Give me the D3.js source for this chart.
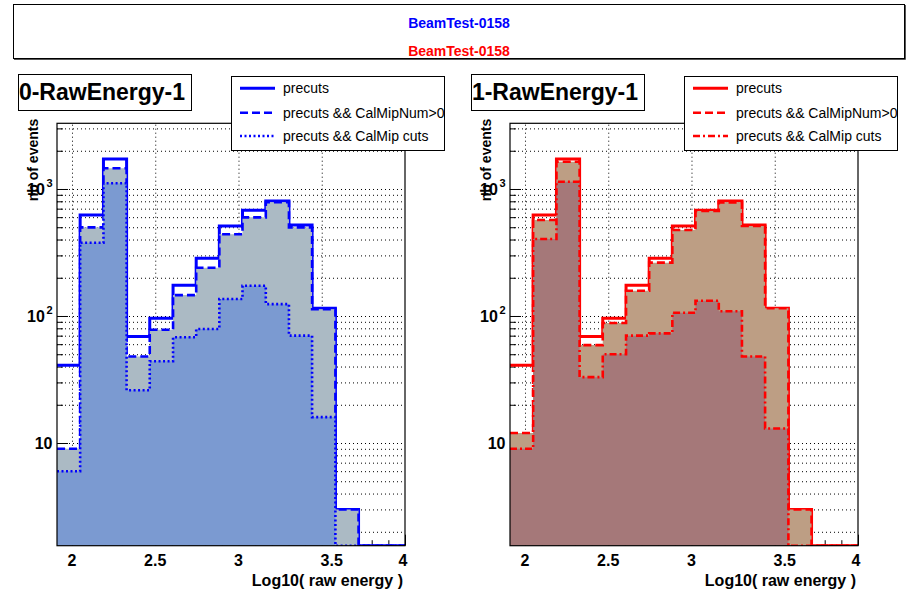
<!DOCTYPE html>
<html>
<head>
<meta charset="utf-8">
<script src="https://cdn.jsdelivr.net/npm/d3@7/dist/d3.min.js"></script>
<style>
  body { margin: 0; background: #fff; }
  svg { display: block; font-family: "Liberation Sans", Arial, Helvetica, sans-serif; }
</style>
</head>
<body>
<svg id="chart" width="913" height="592"></svg>
<script>
// Histogram binning: 15 bins in log10(raw energy)
const binEdges = [1.910, 2.049, 2.189, 2.328, 2.467, 2.607, 2.746, 2.885,
                  3.024, 3.164, 3.303, 3.442, 3.582, 3.721, 3.861, 4.000];

// Layer 0 counts per bin
const precuts0  = [41, 624, 1722, 69, 96, 175, 285, 511, 680, 804, 521, 115, 3, 0, 0];
const mipNum0   = [9, 499, 1455, 48, 78, 146, 240, 440, 598, 788, 499, 113, 3, 0, 0];
const mipCuts0  = [6, 377, 1109, 26, 44, 68, 79, 136, 173, 124, 70, 16, 0, 0, 0];

// Layer 1 counts per bin
const precuts1  = [41, 624, 1722, 69, 96, 175, 285, 511, 680, 804, 521, 115, 3, 0, 0];
const mipNum1   = [12, 570, 1640, 59, 88, 158, 263, 475, 671, 785, 511, 115, 3, 0, 0];
const mipCuts1  = [9, 404, 1141, 33, 50, 70, 73, 106, 132, 109, 48, 13, 0, 0, 0];

const legendLabels = ["precuts", "precuts && CalMipNum>0", "precuts && CalMip cuts"];
const xTickValues = [2, 2.5, 3, 3.5, 4];
const yTickValues = [10, 100, 1000];
const runLabel = "BeamTest-0158";

const yMin = 1.554, yMax = 3290;

const svg = d3.select("#chart");

// Run header pave
svg.append("rect").attr("x", 13.5).attr("y", 4.5).attr("width", 891).attr("height", 54)
  .attr("fill", "#fff").attr("stroke", "#000").attr("stroke-width", 1);
svg.append("path").attr("d", "M14,59.5H905.5V5").attr("fill", "none")
  .attr("stroke", "#555").attr("stroke-width", 1);
svg.append("text").attr("x", 459).attr("y", 28).attr("text-anchor", "middle")
  .attr("font-size", 14).attr("font-weight", "bold").attr("fill", "#0000ff").text(runLabel);
svg.append("text").attr("x", 459).attr("y", 55.5).attr("text-anchor", "middle")
  .attr("font-size", 14).attr("font-weight", "bold").attr("fill", "#ff0000").text(runLabel);

// Minor tick positions
const xMinor = d3.range(20, 41).map(k => k / 10).filter(v => !xTickValues.includes(v));
const yMinorAll = [];
[1, 10, 100, 1000].forEach(dec => { for (let m = 1; m <= 9; m++) yMinorAll.push(dec * m); });
const yGrid = yMinorAll.filter(v => v >= yMin && v <= yMax);
const yMinor = yGrid.filter(v => !yTickValues.includes(v));

const fx0 = 57, fx1 = 405, fy0 = 123.3, fy1 = 545.7;

function drawPanel(ox, idx, title, color, series) {
  const g = svg.append("g").attr("transform", `translate(${ox},0)`);
  const x = d3.scaleLinear().domain([binEdges[0], binEdges[binEdges.length - 1]]).range([fx0, fx1]);
  const y = d3.scaleLog().domain([yMin, yMax]).range([fy1, fy0]);

  // dotted grid
  const gy = g.append("g").attr("transform", `translate(${fx0},0)`)
    .call(d3.axisLeft(y).tickValues(yGrid).tickSize(-(fx1 - fx0)).tickFormat(""));
  gy.select(".domain").remove();
  gy.selectAll("line").attr("stroke", "#000").attr("stroke-width", 1).attr("stroke-dasharray", "1,3");
  const gx = g.append("g").attr("transform", `translate(0,${fy1})`)
    .call(d3.axisBottom(x).tickValues([2, 2.5, 3, 3.5]).tickSize(-(fy1 - fy0)).tickFormat(""));
  gx.select(".domain").remove();
  gx.selectAll("line").attr("stroke", "#000").attr("stroke-width", 1).attr("stroke-dasharray", "1,3");

  // inward ticks
  const tickAxes = [
    [d3.axisLeft(y).tickValues(yMinor).tickSize(-6), `translate(${fx0},0)`],
    [d3.axisLeft(y).tickValues(yTickValues).tickSize(-11), `translate(${fx0},0)`],
    [d3.axisBottom(x).tickValues(xMinor).tickSize(-5.5), `translate(0,${fy1})`],
    [d3.axisBottom(x).tickValues(xTickValues).tickSize(-11), `translate(0,${fy1})`]
  ];
  tickAxes.forEach(([ax, tr]) => {
    const a = g.append("g").attr("transform", tr).call(ax.tickFormat(""));
    a.select(".domain").remove();
    a.selectAll("line").attr("stroke", "#000").attr("stroke-width", 1);
  });

  // histograms
  const clipId = "frameClip" + idx;
  g.append("clipPath").attr("id", clipId).append("rect")
    .attr("x", fx0).attr("y", fy0).attr("width", fx1 - fx0).attr("height", fy1 - fy0);
  const hg = g.append("g").attr("clip-path", `url(#${clipId})`);
  const yv = v => y(Math.max(v, yMin));
  const line = d3.line().x(d => x(d[0])).y(d => yv(d[1])).curve(d3.curveStepAfter);
  const area = d3.area().x(d => x(d[0])).y0(fy1).y1(d => yv(d[1])).curve(d3.curveStepAfter);
  series.forEach(s => {
    const pts = s.values.map((v, i) => [binEdges[i], v]);
    pts.push([binEdges[binEdges.length - 1], s.values[s.values.length - 1]]);
    if (s.fill) hg.append("path").attr("d", area(pts)).attr("fill", s.fill).attr("stroke", "none");
    hg.append("path").attr("d", line(pts)).attr("fill", "none")
      .attr("stroke", color).attr("stroke-width", s.width)
      .attr("stroke-dasharray", s.dash);
  });

  // frame
  g.append("rect").attr("x", fx0).attr("y", fy0).attr("width", fx1 - fx0).attr("height", fy1 - fy0)
    .attr("fill", "none").attr("stroke", "#000").attr("stroke-width", 1.2);

  // y tick labels (10, 10^2, 10^3)
  yTickValues.forEach(v => {
    const e = Math.round(Math.log10(v));
    const t = g.append("text").attr("x", fx0 - 4.5).attr("y", y(v) + 6)
      .attr("text-anchor", "end").attr("font-size", 16).attr("font-weight", "bold");
    t.append("tspan").text("10");
    if (e > 1) t.append("tspan").attr("font-size", 11).attr("dx", 1.5).attr("dy", -8).text(e);
  });

  // x tick labels
  xTickValues.forEach(v => {
    g.append("text").attr("x", x(v) + (v === 3.5 ? 10 : v === 4 ? -2 : 0)).attr("y", 566)
      .attr("text-anchor", "middle").attr("font-size", 16).attr("font-weight", "bold").text(String(v));
  });

  // axis titles
  g.append("text").attr("x", 403).attr("y", 586).attr("text-anchor", "end")
    .attr("font-size", 16).attr("font-weight", "bold").text("Log10( raw energy )");
  g.append("text").attr("transform", "translate(38,160) rotate(-90)").attr("text-anchor", "middle")
    .attr("font-size", 14).attr("font-weight", "bold").text("nb of events");

  // title pave
  g.append("rect").attr("x", 18.5).attr("y", 74.5).attr("width", 173).attr("height", 36)
    .attr("fill", "#fff").attr("stroke", "#000").attr("stroke-width", 1);
  g.append("text").attr("x", 102).attr("y", 100).attr("text-anchor", "middle")
    .attr("font-size", 23).attr("font-weight", "bold").text(title);

  // legend
  g.append("rect").attr("x", 231.5).attr("y", 76.5).attr("width", 213).attr("height", 74)
    .attr("fill", "#fff").attr("stroke", "#000").attr("stroke-width", 1);
  const rowsY = [88.3, 112.7, 136];
  series.forEach((s, i) => {
    g.append("line").attr("x1", 240).attr("x2", 275).attr("y1", rowsY[i]).attr("y2", rowsY[i])
      .attr("stroke", color).attr("stroke-width", s.width).attr("stroke-dasharray", s.dash);
    g.append("text").attr("x", 283).attr("y", rowsY[i] + 5).attr("font-size", 14)
      .attr("fill", "#000").text(legendLabels[i]);
  });
}

drawPanel(0, 0, "0-RawEnergy-1", "#0000ff", [
  { values: precuts0, fill: null, width: 3, dash: null },
  { values: mipNum0, fill: "#abbac4", width: 2.6, dash: "8,4" },
  { values: mipCuts0, fill: "#7b9ad1", width: 2.6, dash: "2,2.5" }
]);
drawPanel(453, 1, "1-RawEnergy-1", "#ff0000", [
  { values: precuts1, fill: null, width: 3, dash: null },
  { values: mipNum1, fill: "#bd9e84", width: 2.6, dash: "8,4" },
  { values: mipCuts1, fill: "#a57879", width: 2.6, dash: "7,3,2,3" }
]);
</script>
</body>
</html>
